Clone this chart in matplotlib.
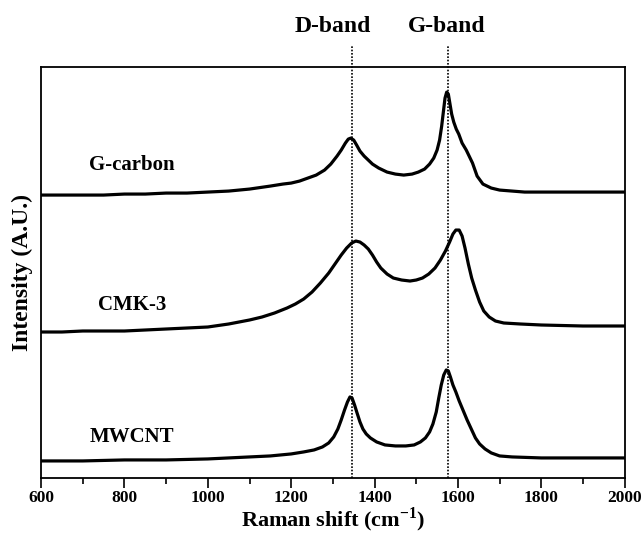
"""Raman spectra of G-carbon, CMK-3 and MWCNT (stacked, arbitrary units)."""

import matplotlib

matplotlib.use("Agg")
import matplotlib.pyplot as plt
from matplotlib.ticker import MultipleLocator

plt.rcParams["font.family"] = ["Liberation Serif", "DejaVu Serif"]
plt.rcParams["font.weight"] = "bold"
plt.rcParams["mathtext.fontset"] = "custom"
plt.rcParams["mathtext.rm"] = "Liberation Serif:bold"
plt.rcParams["mathtext.bf"] = "Liberation Serif:bold"

# values (offset intensity, arbitrary units)
gcarbon_x = [600, 650, 700, 750, 800, 850, 900, 950, 1000, 1050, 1100, 1150,
             1180, 1200, 1220, 1240, 1260, 1280, 1295, 1310, 1320, 1330, 1337,
             1343, 1350, 1357, 1365, 1375, 1385, 1395, 1410, 1430, 1450, 1470,
             1490, 1505, 1520, 1532, 1542, 1550, 1556, 1561, 1565, 1569, 1573,
             1577, 1581, 1585, 1590, 1596, 1602, 1610, 1620, 1635, 1646, 1660,
             1680, 1700, 1730, 1760, 1800, 1850, 1900, 1950, 2000]
gcarbon_y = [283, 283, 283, 283, 284, 284, 285, 285, 286, 287, 289, 292,
             294, 295, 297, 300, 303, 308, 314, 322, 328, 335, 339,
             340, 338, 333, 327, 322, 318, 314, 310, 306, 304, 303,
             304, 306, 309, 314, 320, 328, 338, 352, 366, 380, 386,
             384, 374, 364, 356, 349, 344, 335, 328, 315, 302, 294,
             290, 288, 287, 286, 286, 286, 286, 286, 286]

cmk3_x = [600, 650, 700, 750, 800, 850, 900, 950, 1000, 1050, 1100, 1130,
          1160, 1190, 1210, 1230, 1250, 1270, 1290, 1305, 1320, 1333, 1345,
          1355, 1365, 1375, 1385, 1395, 1405, 1415, 1430, 1445, 1465, 1485,
          1500, 1515, 1530, 1545, 1558, 1570, 1580, 1588, 1595, 1603, 1610,
          1617, 1625, 1633, 1642, 1652, 1662, 1675, 1690, 1710, 1750, 1800,
          1900, 2000]
cmk3_y = [146, 146, 147, 147, 147, 148, 149, 150, 151, 154, 158, 161,
          165, 170, 174, 179, 186, 195, 205, 214, 223, 230, 235,
          237, 236, 233, 229, 223, 216, 210, 204, 200, 198, 197,
          198, 200, 204, 210, 218, 227, 236, 244, 248, 248, 242,
          230, 214, 200, 188, 176, 167, 161, 157, 155, 154, 153,
          152, 152]

mwcnt_x = [600, 700, 800, 900, 1000, 1100, 1150, 1200, 1230, 1255, 1275, 1290,
           1302, 1312, 1320, 1328, 1335, 1341, 1346, 1352, 1358, 1365, 1372,
           1380, 1390, 1405, 1425, 1450, 1475, 1495, 1510, 1522, 1532, 1540,
           1548, 1554, 1560, 1566, 1572, 1577, 1582, 1588, 1595, 1603, 1612,
           1622, 1632, 1642, 1652, 1665, 1680, 1700, 1730, 1800, 1900, 2000]
mwcnt_y = [17, 17, 18, 18, 19, 21, 22, 24, 26, 28, 31, 35,
           41, 49, 58, 68, 76, 81, 80, 73, 65, 56, 49,
           44, 40, 36, 33, 32, 32, 33, 36, 40, 46, 54,
           66, 80, 93, 103, 108, 107, 101, 93, 86, 77, 68,
           58, 49, 40, 34, 29, 25, 22, 21, 20, 20, 20]

samples = ["G-carbon", "CMK-3", "MWCNT"]
label_y = [313, 173, 41]
band_names = ["D-band", "G-band"]
band_pos = [1345, 1577]
band_text_x = [1300, 1574]

fig = plt.figure(figsize=(6.42, 5.37), dpi=100)
ax = fig.add_axes([0.064, 0.110, 0.909, 0.765])

for xs, ys in ((gcarbon_x, gcarbon_y), (cmk3_x, cmk3_y), (mwcnt_x, mwcnt_y)):
    ax.plot(xs, ys, color="black", lw=2.3, solid_joinstyle="round")

for name, ly in zip(samples, label_y):
    ax.text(818, ly, name, ha="center", va="center", fontsize=15, fontweight="bold")

for name, pos, tx in zip(band_names, band_pos, band_text_x):
    ax.axvline(pos, ymin=0, ymax=1.053, color="black", lw=1.2,
               linestyle=(0, (1, 1)), clip_on=False)
    ax.text(tx, 1.10, name, transform=ax.get_xaxis_transform(), ha="center",
            va="center", fontsize=17, fontweight="bold")

ax.set_xlim(600, 2000)
ax.set_ylim(0, 411)
ax.xaxis.set_major_locator(MultipleLocator(200))
ax.xaxis.set_minor_locator(MultipleLocator(100))
ax.tick_params(axis="x", which="major", direction="out", length=7, width=1.2,
               labelsize=12.5, top=False, pad=1.5)
ax.tick_params(axis="x", which="minor", direction="out", length=4, width=1.2, top=False)
ax.set_yticks([])
for lbl in ax.get_xticklabels():
    lbl.set_fontweight("bold")
for sp in ax.spines.values():
    sp.set_linewidth(1.3)

ax.set_xlabel("Raman shift (cm$^{\\mathregular{-1}}$)", fontsize=16, fontweight="bold")
ax.xaxis.set_label_coords(0.5, -0.066)
ax.set_ylabel("Intensity (A.U.)", fontsize=17, fontweight="bold", labelpad=6)

fig.savefig("out.png", dpi=100)
plt.close(fig)
